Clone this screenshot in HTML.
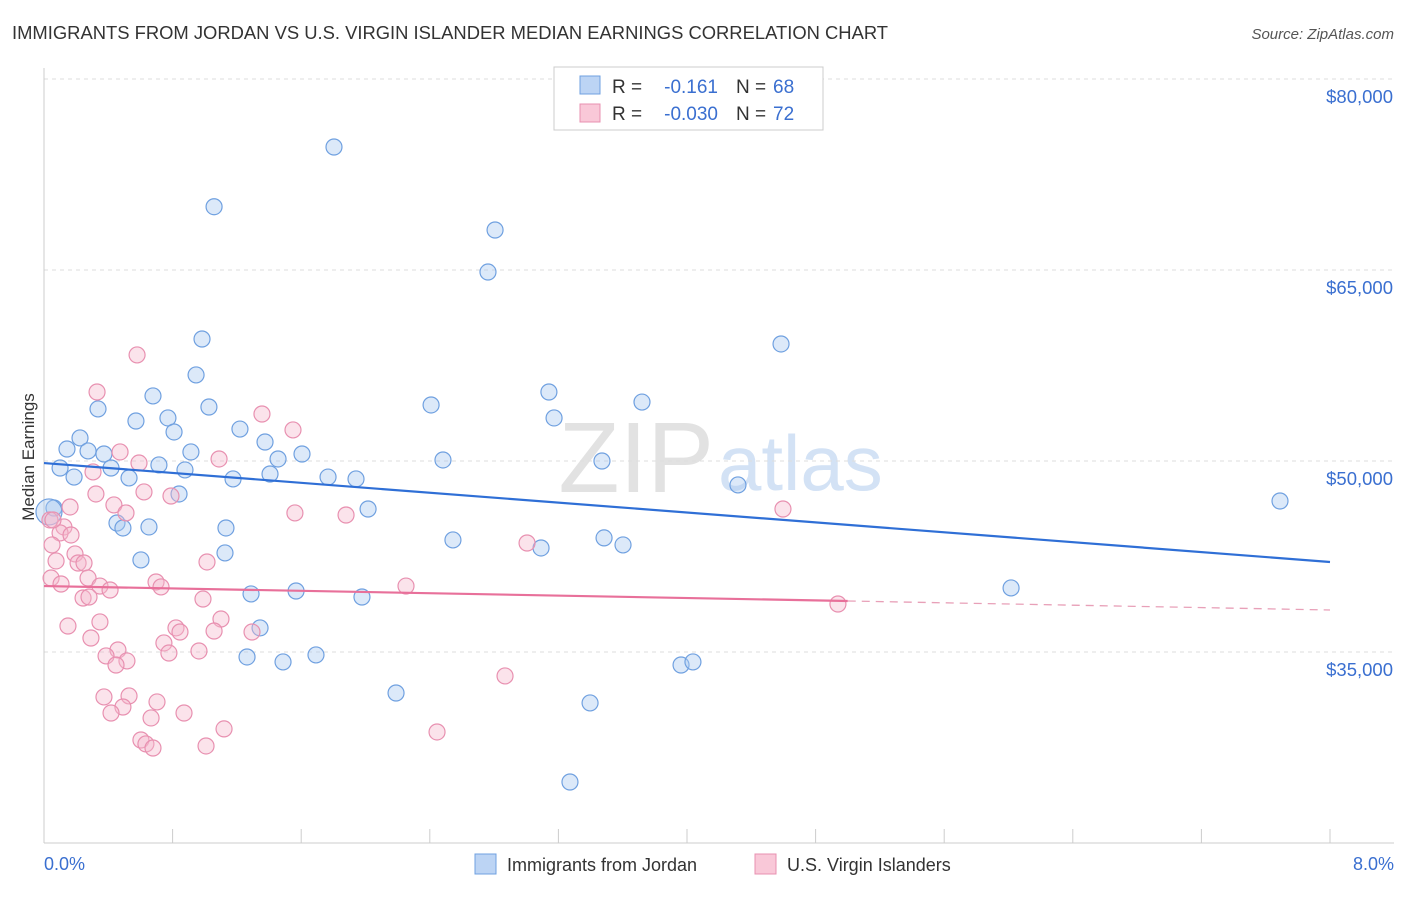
<!DOCTYPE html>
<html><head><meta charset="utf-8"><style>
body{margin:0;background:#fff;font-family:"Liberation Sans",sans-serif;}
svg text{font-family:"Liberation Sans",sans-serif;}
</style></head><body>
<svg id="c" width="1406" height="892" xmlns="http://www.w3.org/2000/svg">
<text x="12" y="39" font-size="18.4" fill="#333">IMMIGRANTS FROM JORDAN VS U.S. VIRGIN ISLANDER MEDIAN EARNINGS CORRELATION CHART</text>
<text x="1394" y="39" font-size="15" fill="#555" font-style="italic" text-anchor="end">Source: ZipAtlas.com</text>
<text x="714" y="492" font-size="100" fill="#e2e2e2" text-anchor="end" font-family="Liberation Serif">ZIP</text>
<text x="718" y="490" font-size="78" fill="#d3e2f5">atlas</text>
<g id="grid"></g>
<g id="axes"></g>
<g id="marks"></g>
<text transform="translate(34,457) rotate(-90)" font-size="17" fill="#333" text-anchor="middle">Median Earnings</text>
<text x="44" y="870" font-size="18" fill="#3a6fd0">0.0%</text>
<text x="1394" y="870" font-size="18" fill="#3a6fd0" text-anchor="end">8.0%</text>
<g>
<rect x="554" y="67" width="269" height="63" fill="#fff" stroke="#ccc"/>
<rect x="580" y="76" width="20" height="18" fill="#bcd4f4" stroke="#6fa0e0"/>
<rect x="580" y="104" width="20" height="18" fill="#f9c8d8" stroke="#e890b0"/>
<text x="612" y="93" font-size="19" fill="#333">R =</text>
<text x="718" y="93" font-size="19" fill="#3a6fd0" text-anchor="end">-0.161</text>
<text x="736" y="93" font-size="19" fill="#333">N =</text>
<text x="773" y="93" font-size="19" fill="#3a6fd0">68</text>
<text x="612" y="120" font-size="19" fill="#333">R =</text>
<text x="718" y="120" font-size="19" fill="#3a6fd0" text-anchor="end">-0.030</text>
<text x="736" y="120" font-size="19" fill="#333">N =</text>
<text x="773" y="120" font-size="19" fill="#3a6fd0">72</text>
</g>
<g>
<rect x="475" y="854" width="21" height="20" fill="#bcd4f4" stroke="#6fa0e0"/>
<text x="507" y="871" font-size="18" fill="#333">Immigrants from Jordan</text>
<rect x="755" y="854" width="21" height="20" fill="#f9c8d8" stroke="#e890b0"/>
<text x="787" y="871" font-size="18" fill="#333">U.S. Virgin Islanders</text>
</g>
</svg>
<script>
const yTicks=[80,65,50,35];
const yTickLabels=["$80,000","$65,000","$50,000","$35,000"];
const xTicks=[0,0.8,1.6,2.4,3.2,4,4.8,5.6,6.4,7.2,8];
const blueX=[1.804,1.058,2.806,2.762,4.585,0.983,0.946,0.678,0.336,1.026,0.572,0.771,0.809,1.219,1.375,0.224,0.143,0.274,0.373,0.914,1.456,1.605,0.100,0.417,0.715,0.877,1.406,0.187,0.529,1.176,1.767,1.941,0.840,0.062,2.016,0.454,0.491,0.653,1.132,2.408,2.482,3.141,3.173,3.471,3.720,4.317,2.544,3.092,3.484,3.602,7.689,0.603,1.126,6.016,1.288,1.568,1.978,1.344,1.263,1.487,1.692,2.190,3.397,3.963,4.037,3.272,0.031];
const blueY=[74.66,69.97,68.14,64.84,59.19,59.58,56.76,55.11,54.09,54.24,53.14,53.38,52.28,52.51,51.49,51.81,50.94,50.79,50.55,50.71,50.16,50.55,49.45,49.45,49.69,49.30,48.98,48.74,48.67,48.59,48.74,48.59,47.41,46.31,46.23,45.13,44.74,44.82,44.74,54.40,50.08,55.42,53.38,50.00,54.63,48.12,43.80,43.17,43.96,43.41,46.86,42.23,42.78,40.03,39.56,39.79,39.32,36.89,34.61,34.22,34.77,31.78,31.00,33.98,34.22,24.79,46.00];
const pinkX=[0.579,0.330,1.356,1.549,0.473,0.591,1.089,0.305,0.323,0.622,0.790,0.435,0.510,0.162,1.561,1.879,4.597,0.037,0.124,0.100,0.168,0.050,3.005,0.193,0.075,0.212,0.249,1.014,0.044,0.274,0.106,0.348,0.411,0.697,0.728,2.252,0.243,0.280,0.989,4.939,1.101,0.149,0.348,0.821,0.846,1.058,1.294,0.292,0.746,0.777,0.964,0.460,0.386,0.516,0.448,2.868,0.373,0.529,0.703,0.491,0.417,0.871,0.666,1.120,2.445,0.603,0.634,0.678,1.008,0.056];
const pinkY=[58.33,55.42,53.69,52.44,50.71,49.84,50.16,49.14,47.41,47.57,47.25,46.55,45.92,46.39,45.92,45.76,46.23,45.37,44.82,44.35,44.19,43.41,43.56,42.70,42.15,41.99,41.99,42.07,40.81,40.81,40.34,40.18,39.87,40.50,40.11,40.18,39.24,39.32,39.16,38.77,37.59,37.04,37.36,36.89,36.57,36.65,36.57,36.10,35.71,34.92,35.08,35.16,34.69,34.30,33.98,33.12,31.47,31.55,31.08,30.68,30.21,30.21,29.82,28.96,28.72,28.09,27.78,27.46,27.62,45.37];
const blueTrend=[49.84,42.07];
const pinkTrend=[40.18,38.30];
const pinkSolidEnd=5.0;
const NS="http://www.w3.org/2000/svg";
const X=v=>44+v/8*1286;
const Y=v=>79+(80-v)*191/15;
function mk(t,a,p){const e=document.createElementNS(NS,t);for(const k in a)e.setAttribute(k,a[k]);p.appendChild(e);return e;}
const grid=document.getElementById('grid'),axes=document.getElementById('axes'),marks=document.getElementById('marks');
yTicks.forEach((t,i)=>{
 const l=mk('line',{x1:44,x2:1394,y1:Y(t),y2:Y(t),stroke:'#ddd','stroke-dasharray':'4,4'},grid);
 
 
 const tx=mk('text',{x:1393,y:Y(t)+24,'font-size':18.5,fill:'#3a6fd0','text-anchor':'end'},grid);
 tx.textContent=yTickLabels[i];
 
 
});
const ya=mk('line',{x1:44,x2:44,y1:68,y2:843,stroke:'#ccc'},axes);


const xa=mk('line',{x1:44,x2:1394,y1:843,y2:843,stroke:'#ccc'},axes);


xTicks.forEach(t=>{
 const l=mk('line',{x1:X(t),x2:X(t),y1:829,y2:843,stroke:'#ccc'},axes);
 
 
});
function pts(xs,ys,fill,stroke,name){
 xs.forEach((x,i)=>{
  const big=(i===xs.length-1&&name==='jordan-point');
  const c=mk('circle',{cx:X(x),cy:Y(ys[i]),r:big?13:8,fill:fill,'fill-opacity':0.4,stroke:stroke,'stroke-width':1.2},marks);
  
  
 });
}
pts(blueX,blueY,'#a8c8f0','#6fa0e0','jordan-point');
pts(pinkX,pinkY,'#f5b8cc','#e890b0','virgin-islander-point');
const bl=mk('line',{x1:X(0),y1:Y(blueTrend[0]),x2:X(8),y2:Y(blueTrend[1]),stroke:'#2f6fd6','stroke-width':2.2},marks);


const py=x=>pinkTrend[0]+(pinkTrend[1]-pinkTrend[0])*x/8;
const pl=mk('line',{x1:X(0),y1:Y(py(0)),x2:X(pinkSolidEnd),y2:Y(py(pinkSolidEnd)),stroke:'#e8709a','stroke-width':2.2},marks);


const pd=mk('line',{x1:X(pinkSolidEnd),y1:Y(py(pinkSolidEnd)),x2:X(8),y2:Y(py(8)),stroke:'#e8a0b8','stroke-width':1.3,'stroke-dasharray':'8,6'},marks);


</script>
</body></html>
